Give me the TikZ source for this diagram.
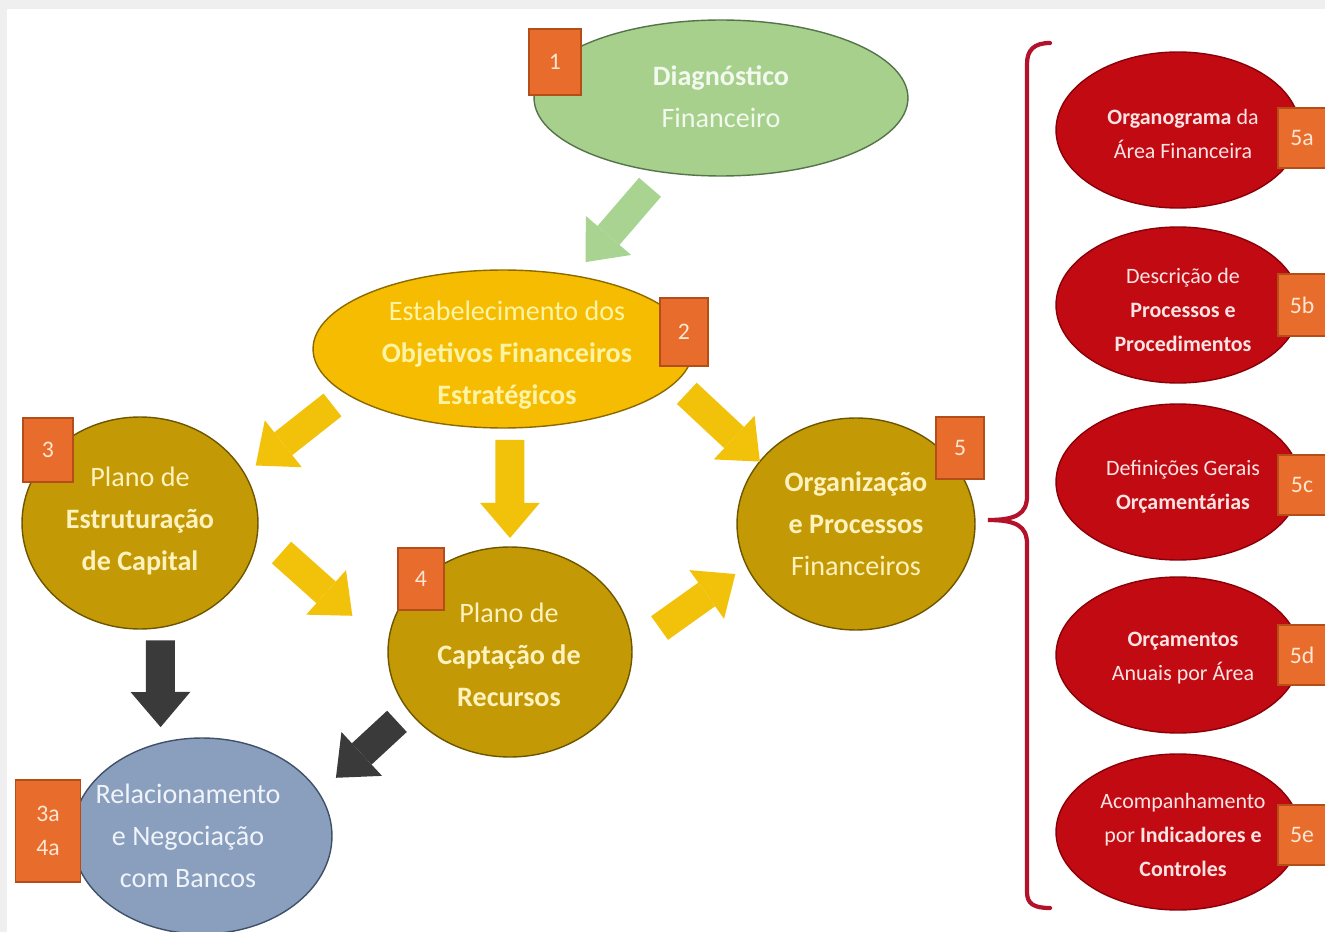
\documentclass[tikz,border=0pt]{standalone}
\usepackage{fontspec}
\setmainfont{Carlito}
\usetikzlibrary{arrows.meta,shapes.geometric}
\definecolor{bggray}{HTML}{EFEFEF}
\definecolor{grnfill}{HTML}{A6D08C}
\definecolor{grnedge}{HTML}{55744A}
\definecolor{grntxt}{HTML}{F3F9EF}
\definecolor{ylwfill}{HTML}{F6BC02}
\definecolor{ylwedge}{HTML}{8C6A00}
\definecolor{ylwtxt}{HTML}{FFF4A6}
\definecolor{goldfill}{HTML}{C39A06}
\definecolor{goldedge}{HTML}{6E5600}
\definecolor{goldtxt}{HTML}{FFF2BE}
\definecolor{bluefill}{HTML}{8A9FBE}
\definecolor{blueedge}{HTML}{3F5068}
\definecolor{bluetxt}{HTML}{F0F4FA}
\definecolor{redfill}{HTML}{C20A12}
\definecolor{rededge}{HTML}{8A0008}
\definecolor{redtxt}{HTML}{FCE4E4}
\definecolor{badgefill}{HTML}{E86C2C}
\definecolor{badgeedge}{HTML}{B44E18}
\definecolor{badgetxt}{HTML}{FDE6D2}
\definecolor{bracered}{HTML}{B3122A}
\definecolor{arrowylw}{HTML}{F2C20A}
\definecolor{arrowdark}{HTML}{3A3A3A}
\definecolor{arrowgrn}{HTML}{A9D391}
\begin{document}
\begin{tikzpicture}[x=0.02cm,y=-0.02cm,
  blob/.style={ellipse, inner sep=0pt, outer sep=0pt, line width=0.8pt},
  greenell/.style={blob, fill=grnfill, draw=grnedge},
  yellowell/.style={blob, fill=ylwfill, draw=ylwedge},
  goldell/.style={blob, fill=goldfill, draw=goldedge},
  blueell/.style={blob, fill=bluefill, draw=blueedge},
  redell/.style={blob, fill=redfill, draw=rededge, minimum width=4.88cm, minimum height=3.12cm},
  maintext/.style={align=center, inner sep=0pt, font=\fontsize{16}{24}\selectfont},
  sidetext/.style={align=center, inner sep=0pt, text=redtxt, font=\fontsize{12.5}{19.5}\selectfont},
  badge/.style={rectangle, fill=badgefill, draw=badgeedge, line width=0.6pt, text=badgetxt,
    inner sep=0pt, align=center, font=\fontsize{13.5}{19}\selectfont},
  blockarrow/.style={line width=16.5pt, -{Triangle[length=20pt,width=34pt,line width=0pt]}},
  yarrow/.style={blockarrow, draw=arrowylw},
  darrow/.style={blockarrow, draw=arrowdark},
  garrow/.style={blockarrow, draw=arrowgrn},
  brace/.style={draw=bracered, line width=2.4pt, line cap=round}
]
\useasboundingbox (0,0) rectangle (1325,932);
\fill[bggray] (0,0) rectangle (1325,932);
\fill[white] (7,9) rectangle (1325,932);

% main ellipses
\node[greenell, minimum width=7.48cm, minimum height=3.12cm] (d1) at (721,98) {};
\node[yellowell, minimum width=7.6cm, minimum height=3.16cm] (e2) at (503,349) {};
\node[goldell, minimum width=4.72cm, minimum height=4.24cm] (c3) at (140,523) {};
\node[goldell, minimum width=4.88cm, minimum height=4.2cm] (c4) at (510,652) {};
\node[goldell, minimum width=4.76cm, minimum height=4.24cm] (c5) at (856,524) {};
\node[blueell, minimum width=5.2cm, minimum height=3.92cm] (bl) at (202,836) {};

% texts
\node[maintext, text=grntxt] (t1) at (721,97) {\textbf{Diagnóstico}\\Financeiro};
\node[maintext, text=ylwtxt] (t2) at (507,355) {Estabelecimento dos\\\textbf{Objetivos Financeiros}\\\textbf{Estratégicos}};
\node[maintext, text=goldtxt] (t3) at (140,521) {Plano de\\\textbf{Estruturação}\\\textbf{de Capital}};
\node[maintext, text=goldtxt] (t4) at (509,655) {Plano de\\\textbf{Captação de}\\\textbf{Recursos}};
\node[maintext, text=goldtxt] (t5) at (856,524) {\textbf{Organização}\\\textbf{e Processos}\\Financeiros};
\node[maintext, text=bluetxt] (tb) at (188,836) {Relacionamento\\e Negociação\\com Bancos};

% right column
\node[redell] (r5a) at (1178,130) {};
\node[redell] (r5b) at (1178,305) {};
\node[redell] (r5c) at (1178,482) {};
\node[redell] (r5d) at (1178,655) {};
\node[redell] (r5e) at (1178,832) {};
\node[sidetext] (s5a) at (1183,134) {\textbf{Organograma} da\\Área Financeira};
\node[sidetext] (s5b) at (1183,310) {Descrição de\\\textbf{Processos e}\\\textbf{Procedimentos}};
\node[sidetext] (s5c) at (1183,487) {Definições Gerais\\\textbf{Orçamentárias}};
\node[sidetext] (s5d) at (1183,658) {\textbf{Orçamentos}\\Anuais por Área};
\node[sidetext] (s5e) at (1183,835) {Acompanhamento\\por \textbf{Indicadores e}\\\textbf{Controles}};

% badges
\node[badge, minimum width=1.04cm, minimum height=1.32cm] (b1) at (555,62) {1};
\node[badge, minimum width=0.96cm, minimum height=1.36cm] (b2) at (684,332) {2};
\node[badge, minimum width=1.0cm, minimum height=1.28cm] (b3) at (48,450) {3};
\node[badge, minimum width=0.92cm, minimum height=1.24cm] (b4) at (421,579) {4};
\node[badge, minimum width=0.96cm, minimum height=1.24cm] (b5) at (960,448) {5};
\node[badge, minimum width=1.3cm, minimum height=2.04cm] (b34) at (48,831) {3a\\4a};
\node[badge, minimum width=0.96cm, minimum height=1.2cm] (b5a) at (1302,138) {5a};
\node[badge, minimum width=0.96cm, minimum height=1.24cm] (b5b) at (1302,305) {5b};
\node[badge, minimum width=0.96cm, minimum height=1.2cm] (b5c) at (1302,485) {5c};
\node[badge, minimum width=0.96cm, minimum height=1.2cm] (b5d) at (1302,655) {5d};
\node[badge, minimum width=0.96cm, minimum height=1.2cm] (b5e) at (1302,835) {5e};

% block arrows
\draw[garrow, shorten <=0.4cm, shorten >=0.36cm] (d1.232) -- (e2.46);
\draw[yarrow, shorten <=0.36cm, shorten >=0.28cm] (e2.196) -- (c3.25);
\draw[yarrow, shorten <=0.24cm, shorten >=0.18cm] (e2.275) -- (c4.north);
\draw[yarrow, shorten <=0.32cm] (e2.349) -- (c5.147);
\draw[yarrow, shorten <=0.64cm, shorten >=0.96cm] (c3.356) -- (c4.178);
\draw[yarrow, shorten <=0.68cm, shorten >=0.28cm] (c4.2) -- (c5.201);
\draw[darrow, shorten <=0.26cm, shorten >=0.32cm] (c3.281) -- (bl.114);
\draw[darrow, shorten <=0.32cm, shorten >=0.46cm] (c4.210) -- (bl.20);

% brace
\coordinate (bracetip) at (988,520);
\draw[brace] (1050,43) .. controls (1034,43) and (1027,50) .. (1027,64)
  -- (1027,496) .. controls (1027,514) and (1016,520) .. (bracetip)
  .. controls (1016,520) and (1027,526) .. (1027,544)
  -- (1027,892) .. controls (1027,904) and (1034,908) .. (1050,908);
\end{tikzpicture}
\end{document}
